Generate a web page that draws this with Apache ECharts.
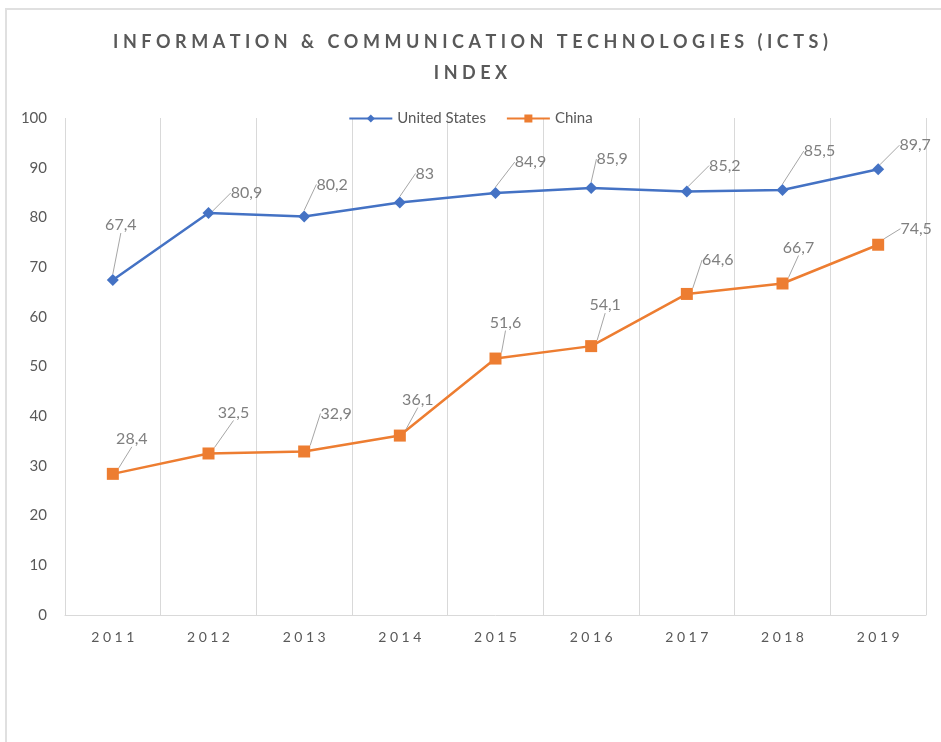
<!DOCTYPE html>
<html>
<head>
<meta charset="utf-8">
<script src="https://cdn.jsdelivr.net/npm/echarts@6/dist/echarts.min.js"></script>
<style>
  html, body { margin: 0; padding: 0; background: #fff; }
  #main { width: 941px; height: 742px; }
</style>
</head>
<body>
<div id="main"></div>
<script>
var years = ['2011', '2012', '2013', '2014', '2015', '2016', '2017', '2018', '2019'];
var usValues = [67.4, 80.9, 80.2, 83, 84.9, 85.9, 85.2, 85.5, 89.7];
var chinaValues = [28.4, 32.5, 32.9, 36.1, 51.6, 54.1, 64.6, 66.7, 74.5];
var yTicks = [0, 10, 20, 30, 40, 50, 60, 70, 80, 90, 100];

// callout offsets (label centre relative to point), like the excel leader lines
var usLabelOffset = [[8, -55], [38, -20], [28, -32], [25, -29], [35, -31], [21, -29], [38, -26], [37, -39], [37, -24]];
var chinaLabelOffset = [[19, -35], [25, -41], [32, -38], [18, -36], [10, -36], [14, -41], [31, -34], [16, -36], [38, -16]];

var FONT = 'Lato';
var myChart = echarts.init(document.getElementById('main'));

function spaced(s, sep) {
    return s.split('').join(sep);
}

function commaNum(v) {
    return String(v).replace('.', ',');
}

var titleText = spaced('INFORMATION & COMMUNICATION TECHNOLOGIES (ICTS)', '\u2009\u2009') + '\n' + spaced('INDEX', '\u2009\u2009');

function calloutLayout(offsets) {
    return function (params) {
        var off = offsets[params.dataIndex];
        var r = params.rect;
        return {
            x: r.x + r.width / 2 + off[0],
            y: r.y + r.height / 2 + off[1],
            align: 'center',
            verticalAlign: 'middle'
        };
    };
}

var option = {
    animation: false,
    backgroundColor: '#fff',
    graphic: [{
        type: 'rect',
        shape: { x: 6, y: 9, width: 1000, height: 800 },
        style: { fill: 'none', stroke: '#e0e0e0', lineWidth: 2 },
        silent: true
    }],
    title: {
        text: titleText,
        left: 'center',
        top: 22,
        textStyle: {
            fontFamily: FONT,
            fontSize: 18,
            fontWeight: 'bold',
            color: '#595959',
            lineHeight: 31
        }
    },
    legend: {
        top: 106,
        left: 'center',
        itemWidth: 43,
        itemHeight: 10,
        itemGap: 20,
        textStyle: { fontFamily: FONT, fontSize: 15, color: '#595959' },
        data: ['United States', 'China']
    },
    grid: { left: 65, right: 15, top: 118, bottom: 127 },
    xAxis: {
        type: 'category',
        data: years,
        boundaryGap: true,
        axisLine: { lineStyle: { color: '#d9d9d9', width: 1 } },
        axisTick: { show: false },
        splitLine: { show: true, interval: 0, lineStyle: { color: '#d9d9d9', width: 1 } },
        axisLabel: {
            margin: 15,
            fontFamily: FONT,
            fontSize: 14,
            color: '#595959',
            formatter: function (v) { return spaced(v, '\u2009\u2009'); }
        }
    },
    yAxis: {
        type: 'value',
        min: yTicks[0],
        max: yTicks[yTicks.length - 1],
        interval: 10,
        axisLine: { show: false },
        axisTick: { show: false },
        splitLine: { show: false },
        axisLabel: { margin: 18, fontFamily: FONT, fontSize: 15, color: '#595959' }
    },
    series: [
        {
            name: 'United States',
            type: 'line',
            data: usValues,
            symbol: 'diamond',
            symbolSize: 12,
            lineStyle: { color: '#4472c4', width: 2.5 },
            itemStyle: { color: '#4472c4' },
            label: {
                show: true,
                fontFamily: FONT,
                fontSize: 16,
                color: '#7f7f7f',
                formatter: function (p) { return commaNum(p.value); }
            },
            labelLine: { show: true, lineStyle: { color: '#a6a6a6', width: 1 } },
            labelLayout: calloutLayout(usLabelOffset),
            z: 3
        },
        {
            name: 'China',
            type: 'line',
            data: chinaValues,
            symbol: 'rect',
            symbolSize: 12,
            lineStyle: { color: '#ed7d31', width: 2.5 },
            itemStyle: { color: '#ed7d31' },
            label: {
                show: true,
                fontFamily: FONT,
                fontSize: 16,
                color: '#7f7f7f',
                formatter: function (p) { return commaNum(p.value); }
            },
            labelLine: { show: true, lineStyle: { color: '#a6a6a6', width: 1 } },
            labelLayout: calloutLayout(chinaLabelOffset),
            z: 2
        }
    ]
};

myChart.setOption(option);
</script>
</body>
</html>
